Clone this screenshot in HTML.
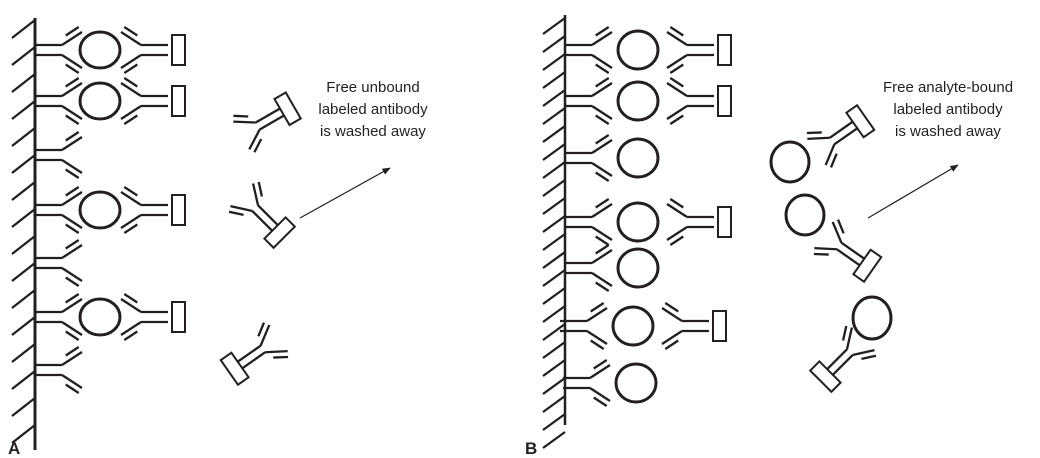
<!DOCTYPE html>
<html><head><style>body{margin:0;background:#fff}svg{display:block}text{font-family:"Liberation Sans",sans-serif;fill:#231f20}</style></head>
<body>
<svg width="1040" height="458" viewBox="0 0 1040 458" xmlns="http://www.w3.org/2000/svg">
<defs>
<g id="cap" stroke="#231f20" stroke-width="2.3" fill="none">
<path d="M0,-5H27M0,5H27M27,-5L47,-18M30.7,-14.5L43.7,-23M27,5L47,18M30.7,14.5L43.7,23"/>
</g>
<g id="det" stroke="#231f20" stroke-width="2.3" fill="none">
<path d="M0,-5H-27M0,5H-27M-27,-5L-47,-18M-30.7,-14.5L-43.7,-23M-27,5L-47,18M-30.7,14.5L-43.7,23"/>
<rect x="4" y="-15" width="13" height="30" stroke-width="2"/>
</g>
<g id="free" stroke="#231f20" stroke-width="2.3" fill="none">
<rect x="0" y="-15" width="13" height="30" stroke-width="2"/>
<path d="M0,-4H-28M0,4H-28M-28,-4L-47,-16M-31.5,-13L-44,-21M-28,4L-47,16M-31.5,13L-44,21"/>
</g>
<marker id="ar" viewBox="0 0 10 10" refX="9" refY="5" markerWidth="7" markerHeight="7" orient="auto"><path d="M0,1L10,5L0,9z" fill="#231f20"/></marker>
</defs>
<g stroke="#231f20" fill="none">
<path d="M35,18V450" stroke-width="3"/>
<path stroke-width="2.3" d="M35,20l-23,18M35,47l-23,18M35,74l-23,18M35,101l-23,18M35,128l-23,18M35,155l-23,18M35,182l-23,18M35,209l-23,18M35,236l-23,18M35,263l-23,18M35,290l-23,18M35,317l-23,18M35,344l-23,18M35,371l-23,18M35,398l-23,18M35,425l-23,18"/>
<path d="M565,15V425" stroke-width="2.5"/>
<path stroke-width="2.3" d="M565,18l-22,16M565,36l-22,16M565,54l-22,16M565,72l-22,16M565,90l-22,16M565,108l-22,16M565,126l-22,16M565,144l-22,16M565,162l-22,16M565,180l-22,16M565,198l-22,16M565,216l-22,16M565,234l-22,16M565,252l-22,16M565,270l-22,16M565,288l-22,16M565,306l-22,16M565,324l-22,16M565,342l-22,16M565,360l-22,16M565,378l-22,16M565,396l-22,16M565,414l-22,16M565,432l-22,16"/>
<g stroke-width="3">
<ellipse cx="100" cy="50" rx="20" ry="18"/>
<ellipse cx="100" cy="101" rx="20" ry="18"/>
<ellipse cx="100" cy="210" rx="20" ry="18"/>
<ellipse cx="100" cy="317" rx="20" ry="18"/>
<ellipse cx="638" cy="50" rx="20" ry="19"/>
<ellipse cx="638" cy="101" rx="20" ry="19"/>
<ellipse cx="638" cy="158" rx="20" ry="19"/>
<ellipse cx="638" cy="222" rx="20" ry="19"/>
<ellipse cx="638" cy="268" rx="20" ry="19"/>
<ellipse cx="633" cy="326" rx="20" ry="19"/>
<ellipse cx="636" cy="383" rx="20" ry="19"/>
<ellipse cx="790" cy="162" rx="19" ry="20"/>
<ellipse cx="805" cy="215" rx="19" ry="20"/>
<ellipse cx="872" cy="318" rx="19" ry="21"/>
</g>
<path d="M300,218L390,168" stroke-width="1.2" marker-end="url(#ar)"/>
<path d="M868,218L958,165" stroke-width="1.2" marker-end="url(#ar)"/>
</g>
<use href="#cap" x="35" y="50"/><use href="#det" x="168" y="50"/>
<use href="#cap" x="35" y="101"/><use href="#det" x="168" y="101"/>
<use href="#cap" x="35" y="155"/>
<use href="#cap" x="35" y="210"/><use href="#det" x="168" y="210"/>
<use href="#cap" x="35" y="263"/>
<use href="#cap" x="35" y="317"/><use href="#det" x="168" y="317"/>
<use href="#cap" x="35" y="370"/>
<use href="#cap" x="565" y="50"/><use href="#det" x="714" y="50"/>
<use href="#cap" x="565" y="101"/><use href="#det" x="714" y="101"/>
<use href="#cap" x="565" y="158"/>
<use href="#cap" x="565" y="222"/><use href="#det" x="714" y="222"/>
<use href="#cap" x="565" y="268"/>
<use href="#cap" x="560" y="326"/><use href="#det" x="709" y="326"/>
<use href="#cap" x="563" y="383"/>
<g transform="translate(282,112) rotate(-30)"><use href="#free"/></g>
<g transform="translate(275,228) rotate(45)"><use href="#free"/></g>
<g transform="translate(240,365) rotate(145)"><use href="#free"/></g>
<g transform="translate(855,125) rotate(-35)"><use href="#free"/></g>
<g transform="translate(862,262) rotate(35)"><use href="#free"/></g>
<g transform="translate(830,372) rotate(135)"><use href="#free"/></g>
<g font-size="15" text-anchor="middle">
<text x="373" y="92">Free unbound</text>
<text x="373" y="114">labeled antibody</text>
<text x="373" y="136">is washed away</text>
<text x="948" y="92">Free analyte-bound</text>
<text x="948" y="114">labeled antibody</text>
<text x="948" y="136">is washed away</text>
</g>
<text x="8" y="454" font-size="17" font-weight="bold">A</text>
<text x="525" y="454" font-size="17" font-weight="bold">B</text>
</svg>
</body></html>
